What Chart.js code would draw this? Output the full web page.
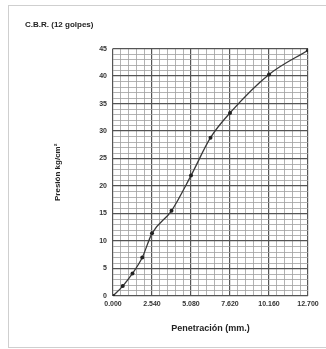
<!DOCTYPE html>
<html>
<head>
<meta charset="utf-8">
<script src="https://cdn.jsdelivr.net/npm/chart.js@4/dist/chart.umd.min.js"></script>
<style>
  body { margin: 0; background: #fff; }
  #wrap { position: relative; width: 326px; height: 349px; overflow: hidden; }
  #frame { position: absolute; left: 8px; top: 5px; width: 340px; height: 341px;
           border: 1px solid #cfcfcf; }
  canvas { position: absolute; left: 0; top: 0; }
</style>
</head>
<body>
<div id="wrap">
  <div id="frame"></div>
  <canvas id="chart" width="326" height="349"></canvas>
</div>
<script>
// penetration (mm) and pressure (kg/cm2)
const penetracion = [0, 0.635, 1.27, 1.905, 2.54, 3.81, 5.08, 6.35, 7.62, 10.16, 12.7];
const presion = [0, 1.8, 4.1, 7.0, 11.4, 15.5, 21.9, 28.8, 33.3, 40.3, 44.7];

const xMajor = [0, 2.54, 5.08, 7.62, 10.16, 12.7];
const xTickLabels = ["0.000", "2.540", "5.080", "7.620", "10.160", "12.700"];
const yMax = 45;

const font = { family: "Liberation Sans", weight: "bold" };

// grid: 5 small divisions between each labelled x value
const xTicks = [];
xMajor.forEach((v, i) => {
  xTicks.push({ value: v, label: xTickLabels[i] });
  if (i < xMajor.length - 1) {
    const step = (xMajor[i + 1] - v) / 5;
    for (let k = 1; k < 5; k++) xTicks.push({ value: v + k * step, label: "" });
  }
});
const isMajorX = v => xMajor.some(m => Math.abs(m - v) < 1e-6);

const ctx = document.getElementById("chart").getContext("2d");

new Chart(ctx, {
  type: "line",
  data: {
    datasets: [{
      data: penetracion.map((x, i) => ({ x: x, y: presion[i] })),
      borderColor: "#3a3a3a",
      borderWidth: 1.3,
      cubicInterpolationMode: "monotone",
      pointRadius: 2,
      pointBackgroundColor: "#222",
      pointBorderWidth: 0
    }]
  },
  options: {
    responsive: false,
    devicePixelRatio: 1,
    animation: false,
    layout: { padding: { left: 25, right: 18, top: 0, bottom: 0 } },
    plugins: {
      legend: { display: false },
      tooltip: { enabled: false },
      title: {
        display: true,
        text: "C.B.R. (12 golpes)",
        align: "start",
        color: "#222",
        font: { ...font, size: 8 },
        padding: { top: 20, bottom: 19 }
      }
    },
    scales: {
      x: {
        type: "linear",
        min: 0,
        max: 12.7,
        afterBuildTicks: s => { s.ticks = xTicks.map(t => ({ value: t.value })); },
        afterFit: s => { s.height = 53; },
        ticks: {
          autoSkip: false,
          maxRotation: 0,
          padding: 4,
          color: "#333",
          font: { ...font, size: 7 },
          callback: (v, i) => xTicks[i] ? xTicks[i].label : ""
        },
        grid: {
          drawTicks: false,
          color: c => (c.tick && isMajorX(c.tick.value)) ? "#555" : "#a0a0a0",
          lineWidth: c => (c.tick && isMajorX(c.tick.value)) ? 1.2 : 0.8
        },
        border: { display: false },
        title: {
          display: true,
          text: "Penetración (mm.)",
          color: "#222",
          font: { ...font, size: 9 },
          padding: { top: 0, bottom: 15 }
        }
      },
      y: {
        min: 0,
        max: yMax,
        afterFit: s => { s.width = 88; },
        ticks: {
          stepSize: 1,
          autoSkip: false,
          padding: 6,
          color: "#333",
          font: { ...font, size: 7 },
          callback: v => (v % 5 === 0 ? v : "")
        },
        grid: {
          drawTicks: false,
          color: c => (c.tick && c.tick.value % 5 === 0) ? "#555" : "#a0a0a0",
          lineWidth: c => (c.tick && c.tick.value % 5 === 0) ? 1.2 : 0.8
        },
        border: { display: false },
        title: {
          display: true,
          text: "Presión kg/cm²",
          color: "#222",
          font: { ...font, size: 8 },
          padding: { top: 28, bottom: 0 }
        }
      }
    }
  }
});
</script>
</body>
</html>
